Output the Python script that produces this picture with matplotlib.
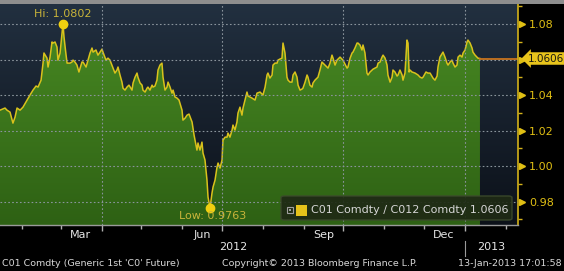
import numpy as np
import matplotlib
matplotlib.use("Agg")
from matplotlib import pyplot as plt
import matplotlib.dates as mdates
import matplotlib.transforms as mtransforms
from matplotlib.patches import Rectangle, FancyBboxPatch
from datetime import datetime

# ---- data: days since 15-Jan-2012 and CO1/CO12 ratio ----
days = [0.0, 3.8, 5.3, 7.6, 9.8, 11.4, 12.9, 15.2, 17.4, 20.5, 22.7, 25.0, 27.3, 28.8, 31.1,
        32.6, 33.3, 35.6, 36.4, 37.9, 39.4, 40.2, 41.7, 43.2, 43.9, 45.5, 47.7, 48.5, 49.6,
        50.8, 53.0, 54.5, 55.3, 56.8, 58.3, 59.8, 62.1, 62.9, 65.2, 66.7, 68.2, 69.7, 70.5,
        72.7, 74.2, 75.8, 77.3, 78.0, 80.3, 81.8, 83.3, 85.6, 87.1, 88.6, 89.4, 90.9, 92.4,
        93.2, 94.7, 96.2, 97.7, 100.0, 100.8, 102.3, 103.8, 104.5, 106.1, 107.6, 108.3,
        109.9, 111.4, 112.1, 113.6, 115.2, 115.9, 117.4, 118.9, 119.7, 121.2, 122.7, 123.5,
        125.0, 126.5, 127.3, 128.8, 130.3, 131.1, 132.6, 134.1, 135.6, 137.9, 138.6, 140.2,
        141.7, 143.2, 145.5, 147.0, 149.2, 150.0, 151.5, 153.0, 153.8, 155.3, 156.8, 157.6,
        159.1, 160.6, 161.4, 162.9, 164.4, 165.2, 166.7, 168.2, 168.9, 170.5, 172.0, 172.7,
        174.2, 175.8, 176.5, 178.0, 179.5, 180.3, 181.8, 183.3, 184.1, 185.6, 187.1, 187.9,
        189.4, 190.9, 193.2, 194.7, 197.0, 199.2, 200.8, 202.3, 203.0, 204.5, 206.1, 206.8,
        208.3, 209.9, 210.6, 212.1, 213.6, 214.4, 215.9, 217.4, 218.2, 219.7, 221.2, 222.0,
        223.5, 225.0, 225.8, 227.3, 228.8, 229.5, 231.1, 232.6, 233.3, 234.8, 236.4, 237.1,
        238.6, 240.2, 240.9, 242.4, 243.9, 244.7, 246.2, 248.5, 250.0, 251.5, 252.3, 253.8,
        255.3, 257.6, 259.8, 262.9, 263.6, 265.2, 266.7, 267.4, 268.9, 270.5, 271.2, 272.7,
        274.2, 275.0, 276.5, 278.0, 278.8, 280.3, 282.6, 285.6, 286.4, 287.9, 289.4, 290.2,
        291.7, 293.2, 293.9, 295.5, 297.0, 297.7, 299.2, 300.8, 301.5, 303.0, 304.6, 305.3,
        306.8, 308.3, 309.1, 309.9, 310.6, 312.1, 314.4, 316.7, 318.2, 319.7, 320.5, 322.7,
        324.2, 325.8, 328.0, 329.5, 331.1, 331.8, 333.3, 335.6, 337.1, 338.6, 339.4, 340.9,
        342.4, 343.2, 344.7, 346.2, 347.0, 348.5, 350.0, 350.8, 352.3, 353.8, 354.5, 356.1,
        357.6, 358.3, 359.9, 361.4, 362.1, 363.6]
ratio = [1.0315, 1.0327, 1.0315, 1.0304, 1.0242, 1.0276, 1.0327, 1.0315, 1.0332, 1.0372,
         1.0400, 1.0428, 1.0451, 1.0445, 1.0484, 1.0580, 1.0637, 1.0608, 1.0558, 1.0614,
         1.0699, 1.0693, 1.0699, 1.0670, 1.0597, 1.0637, 1.0802, 1.0727, 1.0654, 1.0580,
         1.0580, 1.0586, 1.0597, 1.0586, 1.0569, 1.0530, 1.0586, 1.0586, 1.0558, 1.0597,
         1.0637, 1.0665, 1.0642, 1.0654, 1.0625, 1.0642, 1.0659, 1.0642, 1.0597, 1.0608,
         1.0597, 1.0552, 1.0524, 1.0541, 1.0558, 1.0513, 1.0473, 1.0439, 1.0428, 1.0445,
         1.0456, 1.0428, 1.0468, 1.0501, 1.0524, 1.0501, 1.0468, 1.0456, 1.0428, 1.0417,
         1.0439, 1.0445, 1.0428, 1.0456, 1.0445, 1.0451, 1.0484, 1.0541, 1.0569, 1.0580,
         1.0501, 1.0428, 1.0445, 1.0473, 1.0445, 1.0411, 1.0428, 1.0389, 1.0383, 1.0372,
         1.0315, 1.0259, 1.0270, 1.0287, 1.0293, 1.0248, 1.0175, 1.0090, 1.0130, 1.0090,
         1.0135, 1.0073, 1.0034, 0.9921, 0.9825, 0.9763, 0.9848, 0.9882, 0.9921, 0.9994,
         1.0017, 0.9989, 1.0034, 1.0146, 1.0163, 1.0163, 1.0186, 1.0163, 1.0203, 1.0231,
         1.0203, 1.0248, 1.0299, 1.0332, 1.0287, 1.0327, 1.0372, 1.0417, 1.0394, 1.0389,
         1.0383, 1.0372, 1.0411, 1.0417, 1.0400, 1.0445, 1.0513, 1.0524, 1.0496, 1.0513,
         1.0569, 1.0580, 1.0580, 1.0597, 1.0603, 1.0608, 1.0693, 1.0637, 1.0501, 1.0484,
         1.0473, 1.0473, 1.0513, 1.0530, 1.0501, 1.0456, 1.0428, 1.0434, 1.0439, 1.0473,
         1.0513, 1.0501, 1.0456, 1.0445, 1.0468, 1.0484, 1.0496, 1.0501, 1.0541, 1.0586,
         1.0580, 1.0569, 1.0552, 1.0580, 1.0625, 1.0608, 1.0569, 1.0597, 1.0614, 1.0597,
         1.0552, 1.0558, 1.0608, 1.0637, 1.0642, 1.0665, 1.0693, 1.0693, 1.0682, 1.0654,
         1.0682, 1.0637, 1.0524, 1.0513, 1.0530, 1.0546, 1.0558, 1.0580, 1.0586, 1.0614,
         1.0625, 1.0608, 1.0569, 1.0513, 1.0473, 1.0501, 1.0541, 1.0530, 1.0507, 1.0513,
         1.0541, 1.0513, 1.0484, 1.0524, 1.0710, 1.0693, 1.0530, 1.0541, 1.0530, 1.0524,
         1.0513, 1.0501, 1.0496, 1.0501, 1.0530, 1.0524, 1.0524, 1.0496, 1.0484, 1.0507,
         1.0558, 1.0614, 1.0642, 1.0614, 1.0580, 1.0569, 1.0586, 1.0597, 1.0580, 1.0558,
         1.0569, 1.0614, 1.0625, 1.0614, 1.0637, 1.0654, 1.0699, 1.0710, 1.0693, 1.0665,
         1.0642, 1.0625, 1.0614, 1.0608, 1.0606]

hi_val, lo_val, last_val = 1.0802, 0.9763, 1.0606
yticks = [0.98, 1.00, 1.02, 1.04, 1.06, 1.08]
ytick_labels = ["0.98", "1.00", "1.02", "1.04", "", "1.08"]
month_labels = ["Mar", "Jun", "Sep", "Dec"]
legend_text = "C01 Comdty / C012 Comdty 1.0606"
footer_left = "C01 Comdty (Generic 1st 'C0' Future)"
footer_mid = "Copyright\u00a9 2013 Bloomberg Finance L.P."
footer_right = "13-Jan-2013 17:01:58"

t0 = mdates.date2num(datetime(2012, 1, 15))
x = t0 + np.array(days)
y = np.array(ratio)
ymin, ymax = 0.9668, 1.0913
xmin, xmax = t0, t0 + 392.4

fig = plt.figure(figsize=(5.64, 2.71), dpi=100, facecolor="black")
ax = fig.add_axes([0, 0.1697, 0.9184, 0.8155])
ax.set_xlim(xmin, xmax)
ax.set_ylim(ymin, ymax)

# dark gradient background (lighter at top)
bg = np.linspace(0, 1, 256).reshape(-1, 1)
bg_cmap = matplotlib.colors.LinearSegmentedColormap.from_list("bg", ["#223040", "#0c1119"])
ax.imshow(bg, extent=[xmin, xmax, ymin, ymax], origin="upper", aspect="auto",
          cmap=bg_cmap, zorder=0)

# green area with gradient
poly = ax.fill_between(x, y, ymin, color="none", lw=0, zorder=1)
g_cmap = matplotlib.colors.LinearSegmentedColormap.from_list("g", ["#4a8c24", "#2e6114"])
gim = ax.imshow(bg, extent=[xmin, xmax, ymin, ymax], origin="upper", aspect="auto",
                cmap=g_cmap, zorder=1)
gim.set_clip_path(poly.get_paths()[0], transform=ax.transData)
ax.plot(x, y, color="#d9c21c", lw=1.1, zorder=2)

# last price line to the axis
ax.plot([x[-1], xmax], [last_val, last_val], color="#c8741e", lw=1.3, zorder=2)

# grid
for v in yticks:
    ax.axhline(v, color="#8a949c", lw=0.8, ls=(0, (1.5, 2)), zorder=3)
for d in [datetime(2012, 4, 1), datetime(2012, 7, 1), datetime(2012, 10, 1), datetime(2013, 1, 1)]:
    ax.axvline(mdates.date2num(d), color="#8a949c", lw=0.8, ls=(0, (1.5, 2)), zorder=3)

# hi / low markers
ix_hi = int(np.argmax(y))
ix_lo = int(np.argmin(y))
ax.plot(x[ix_hi], hi_val, "o", color="#f0d010", ms=6, zorder=4)
ax.plot(x[ix_lo], lo_val, "o", color="#f0d010", ms=6, zorder=4)
ax.text(x[ix_hi], hi_val + 0.0025, "Hi: 1.0802", color="#c9b43a", fontsize=8,
        ha="center", va="bottom", zorder=4)
ax.text(x[ix_lo] + 2, lo_val - 0.0018, "Low: 0.9763", color="#c9b43a", fontsize=8,
        ha="center", va="top", zorder=4)

# spines
for s in ["top", "left"]:
    ax.spines[s].set_visible(False)
ax.spines["right"].set_color("#d4b21a")
ax.spines["right"].set_linewidth(1.2)
ax.spines["bottom"].set_color("#9a9a9a")
ax.spines["bottom"].set_linewidth(1.0)

# right axis ticks
ax.yaxis.tick_right()
ax.set_yticks(yticks)
ax.set_yticklabels(ytick_labels)
ax.set_yticks(np.arange(0.97, 1.091, 0.02), minor=True)
ax.tick_params(axis="y", which="major", colors="#e0bf14", labelsize=8, length=0, pad=8)
ax.tick_params(axis="y", which="minor", color="#d4b21a", length=3, width=1, direction="out")
trans_r = mtransforms.blended_transform_factory(ax.transAxes, ax.transData)
ax.plot([1.008] * len(yticks), yticks, ">", color="#e0bf14", ms=4.5, transform=trans_r,
        clip_on=False, zorder=5)

# last price tag
ax.text(1.0195, last_val, "1.0606", transform=trans_r, fontsize=7.5, color="#1b1a10",
        ha="left", va="center", zorder=6,
        bbox=dict(boxstyle="larrow,pad=0.12", fc="#e8c41c", ec="none"))

# bottom axis ticks
ax.xaxis.set_major_locator(mdates.MonthLocator(bymonth=[1, 4, 7, 10]))
ax.xaxis.set_minor_locator(mdates.MonthLocator())
ax.tick_params(axis="x", which="both", colors="#b0b0b0", labelbottom=False, direction="out")
ax.tick_params(axis="x", which="major", length=4, width=1)
ax.tick_params(axis="x", which="minor", length=3, width=1)

trans_b = mtransforms.blended_transform_factory(ax.transData, fig.transFigure)
for lab, m in zip(month_labels, [3, 6, 9, 12]):
    ax.text(mdates.date2num(datetime(2012, m, 16)), 0.133, lab, transform=trans_b,
            color="#e6e6e6", fontsize=8, ha="center", va="center")

fig.text(233 / 564, 0.0886, "2012", color="#e6e6e6", fontsize=8, ha="center", va="center")
fig.text(491 / 564, 0.0886, "2013", color="#e6e6e6", fontsize=8, ha="center", va="center")
fig.lines.append(plt.Line2D([465 / 564, 465 / 564], [1 - 256 / 271, 1 - 241 / 271],
                            color="#9a9a9a", lw=0.8, transform=fig.transFigure))

# footer
fig.text(2 / 564, 0.026, footer_left, color="#d8d8d8", fontsize=6.8, ha="left", va="center")
fig.text(222 / 564, 0.026, footer_mid, color="#d8d8d8", fontsize=6.8, ha="left", va="center")
fig.text(562 / 564, 0.026, footer_right, color="#d8d8d8", fontsize=6.8, ha="right", va="center")

# top bar
fig.patches.append(Rectangle((0, 1 - 4 / 271), 1, 4 / 271, transform=fig.transFigure,
                             fc="#8e8e8e", ec="none"))

# legend box
fig.patches.append(FancyBboxPatch((281 / 564, 1 - 220 / 271), 231 / 564, 24 / 271,
                                  boxstyle="round,pad=0,rounding_size=0.006",
                                  transform=fig.transFigure, fc="#1f2a15", ec="#3c4a2c",
                                  lw=1, alpha=0.92, zorder=10))
fig.patches.append(Rectangle((287 / 564, 1 - 213 / 271), 6 / 564, 6 / 271,
                             transform=fig.transFigure, fc="none", ec="#a0a0a0", lw=0.8, zorder=11))
fig.patches.append(Rectangle((289 / 564, 1 - 211 / 271), 2 / 564, 2 / 271,
                             transform=fig.transFigure, fc="#a0a0a0", ec="none", zorder=11))
fig.patches.append(Rectangle((296 / 564, 1 - 216 / 271), 11 / 564, 11 / 271,
                             transform=fig.transFigure, fc="#e5c31a", ec="none", zorder=11))
fig.text(311 / 564, 1 - 210 / 271, legend_text, color="#d6d6d6", fontsize=8,
         ha="left", va="center", zorder=12)

fig.savefig("out.png", dpi=100, facecolor="black")
